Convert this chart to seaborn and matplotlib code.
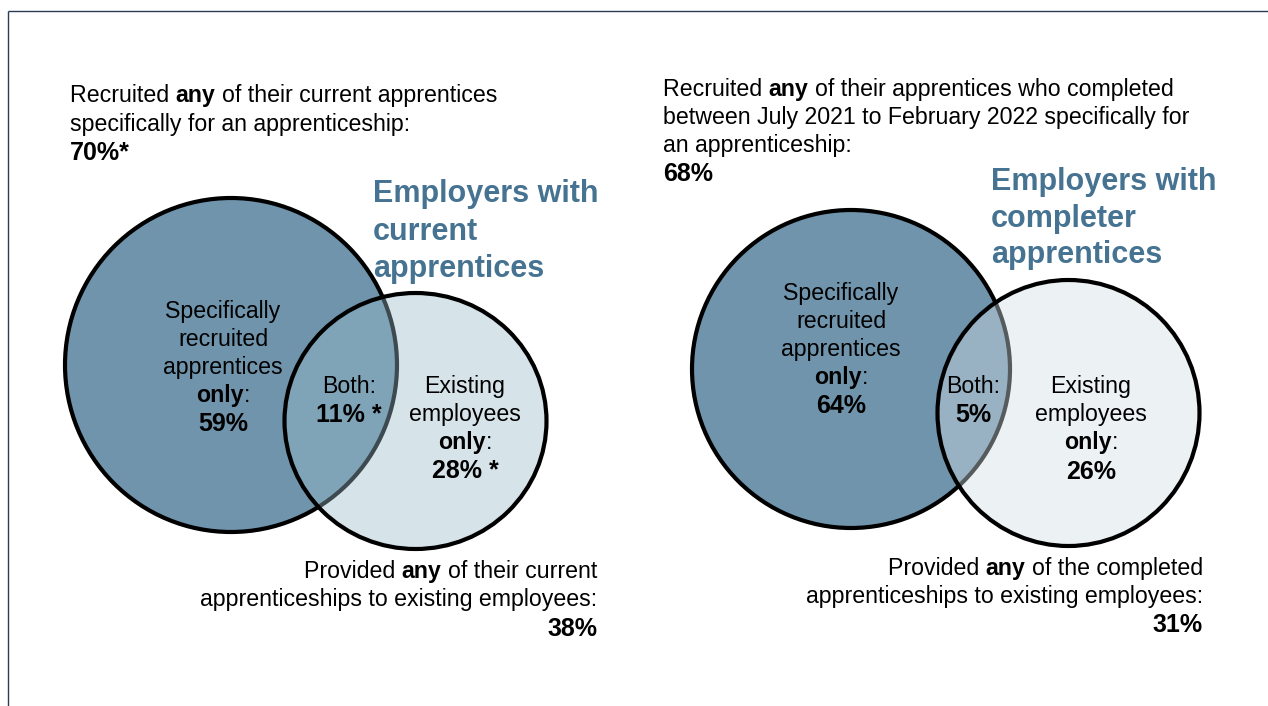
import matplotlib
matplotlib.use("Agg")
import matplotlib.pyplot as plt
from matplotlib.patches import Ellipse
import seaborn as sns

# ---- data -------------------------------------------------------------
groups = ["current", "completer"]
group_titles = ["Employers with\ncurrent\napprentices",
                "Employers with\ncompleter\napprentices"]
# Venn regions: specifically recruited only / both / existing employees only
specific_only = [59, 64]
both = [11, 5]
existing_only = [28, 26]
# totals shown above and below each diagram
any_specific = [70, 68]
any_existing = [38, 31]
# significance markers
specific_flag = ["*", ""]
both_flag = [" *", ""]
existing_flag = [" *", ""]

# ---- style ------------------------------------------------------------
sns.set_theme(style="white")
plt.rcParams["font.family"] = ["Liberation Sans", "DejaVu Sans"]

BIG_FILL = "#6f94ac"
SMALL_FILL = [(153 / 255, 186 / 255, 202 / 255, 0.40),
              (211 / 255, 223 / 255, 230 / 255, 0.41)]
TITLE_COLOR = "#457391"
INK = "#000000"
BODY = 16.7
PCT = 18
TITLE = 22
LW = 3.0

W, H = 1268, 706
fig = plt.figure(figsize=(W / 100, H / 100), dpi=100)
ax = fig.add_axes([0, 0, 1, 1])
ax.set_xlim(0, W)
ax.set_ylim(H, 0)
ax.axis("off")
renderer = fig.canvas.get_renderer()

# frame lines along the top and left
ax.plot([8, W], [11, 11], color="#2b3a55", lw=1.0, solid_capstyle="butt")
ax.plot([8, 8], [11, H], color="#2b3a55", lw=1.0, solid_capstyle="butt")


def advance(s, weight, size):
    a = ax.text(0, 0, "|" + s + "|", fontsize=size, fontweight=weight)
    b = ax.text(0, 0, "||", fontsize=size, fontweight=weight)
    w = a.get_window_extent(renderer).width - b.get_window_extent(renderer).width
    a.remove()
    b.remove()
    return w


def rich_line(x, y, parts, ha="left", color=INK):
    """Draw one line made of (text, bold[, size]) runs on a common baseline."""
    runs = []
    for p in parts:
        t, b = p[0], p[1]
        size = p[2] if len(p) > 2 else BODY
        weight = "bold" if b else "normal"
        runs.append((t, weight, size, advance(t, weight, size)))
    total = sum(r[3] for r in runs)
    if ha == "center":
        x0 = x - total / 2
    elif ha == "right":
        x0 = x - total
    else:
        x0 = x
    for t, weight, size, w in runs:
        body = t.lstrip()
        lead = len(t) - len(body)
        xd = x0 + (advance(" " * lead, weight, size) if lead else 0)
        ax.text(xd, y, body, ha="left", va="baseline", fontsize=size,
                fontweight=weight, color=color)
        x0 += w


def rich_block(x, baselines, lines, ha="left", color=INK):
    for y, parts in zip(baselines, lines):
        rich_line(x, y, parts, ha=ha, color=color)


# geometry of each diagram (pixel space)
layout = [
    dict(big=(231, 365, 332, 334), small=(415.5, 421, 262, 256),
         title=(373, [202, 239.5, 277]),
         top=(70, [102, 131, 160]),
         spec=(223, [318, 346, 374, 402, 431]),
         both=(349, [393, 422]),
         exist=(465, [393, 421, 449, 478]),
         bottom=(597, [578, 606, 636])),
    dict(big=(851, 369, 318, 318), small=(1068.5, 413, 262, 266),
         title=(991, [190, 227, 263]),
         top=(663, [96, 124, 152, 181]),
         spec=(841, [300, 328, 356, 384, 413]),
         both=(973, [393, 422]),
         exist=(1091, [393, 421, 449, 479]),
         bottom=(1203, [575, 603, 632])),
]

top_lines = [
    [[("Recruited ", False), ("any", True), (" of their current apprentices", False)],
     [("specifically for an apprenticeship:", False)]],
    [[("Recruited ", False), ("any", True), (" of their apprentices who completed", False)],
     [("between July 2021 to February 2022 specifically for", False)],
     [("an apprenticeship:", False)]],
]
bottom_lines = [
    [[("Provided ", False), ("any", True), (" of their current", False)],
     [("apprenticeships to existing employees:", False)]],
    [[("Provided ", False), ("any", True), (" of the completed", False)],
     [("apprenticeships to existing employees:", False)]],
]

for i, g in enumerate(groups):
    L = layout[i]
    bx, by, bw, bh = L["big"]
    sx, sy, sw, sh = L["small"]
    ax.add_patch(Ellipse((bx, by), bw, bh, facecolor=BIG_FILL,
                         edgecolor="black", lw=LW, zorder=2))
    ax.add_patch(Ellipse((sx, sy), sw, sh, facecolor=SMALL_FILL[i],
                         edgecolor="black", lw=LW, zorder=3))

    tx, tys = L["title"]
    for y, line in zip(tys, group_titles[i].split("\n")):
        ax.text(tx, y, line, ha="left", va="baseline", fontsize=TITLE,
                fontweight="bold", color=TITLE_COLOR, zorder=5)

    x, ys = L["top"]
    lines = top_lines[i] + [[(f"{any_specific[i]}%{specific_flag[i]}", True, PCT)]]
    rich_block(x, ys, lines, ha="left")

    x, ys = L["spec"]
    rich_block(x, ys, [[("Specifically", False)], [("recruited", False)],
                       [("apprentices", False)],
                       [("only", True), (":", False)],
                       [(f"{specific_only[i]}%", True, PCT)]], ha="center")

    x, ys = L["both"]
    rich_block(x, ys, [[("Both:", False)],
                       [(f"{both[i]}%{both_flag[i]}", True, PCT)]], ha="center")

    x, ys = L["exist"]
    rich_block(x, ys, [[("Existing", False)], [("employees", False)],
                       [("only", True), (":", False)],
                       [(f"{existing_only[i]}%{existing_flag[i]}", True, PCT)]],
               ha="center")

    x, ys = L["bottom"]
    lines = bottom_lines[i] + [[(f"{any_existing[i]}%", True, PCT)]]
    rich_block(x, ys, lines, ha="right")

fig.savefig("out.png", dpi=100, facecolor="white")
